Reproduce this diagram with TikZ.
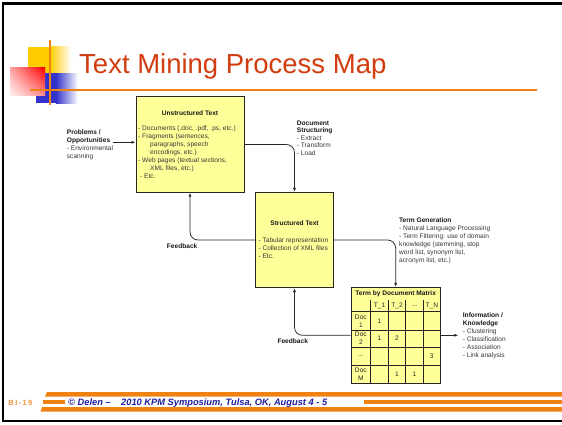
\documentclass[tikz,border=0pt]{standalone}
\usepackage{fontspec}
\setmainfont{Liberation Sans}
\newfontfamily\spacedfont[LetterSpace=18]{Liberation Sans}
\usetikzlibrary{arrows.meta,shadings}
\definecolor{titlered}{RGB}{210,60,15}
\definecolor{slideorange}{RGB}{240,130,20}
\definecolor{boxyellow}{RGB}{255,255,153}
\definecolor{footblue}{RGB}{30,30,160}
\definecolor{bilabel}{RGB}{240,150,60}
\definecolor{sqyellow}{RGB}{255,204,0}
\definecolor{sqblue}{RGB}{51,51,204}
\definecolor{txtgray}{RGB}{55,55,55}
\begin{document}
\begin{tikzpicture}[x=1pt,y=-1pt,
  procbox/.style={draw=black!85, fill=boxyellow, line width=0.75pt, inner sep=0pt},
  lbl/.style={font=\fontsize{6.6}{8}\selectfont, text=txtgray, inner sep=0pt, align=left, anchor=north west},
  head/.style={font=\fontsize{6.6}{8}\selectfont\bfseries, text=black!90, inner sep=0pt},
  cell/.style={font=\fontsize{6.6}{8}\selectfont, text=black!85, inner sep=0pt, align=center},
  conn/.style={draw=black!85, line width=0.75pt, -{Latex[length=4pt,width=3pt]}, rounded corners=8pt},
  orangebar/.style={fill=slideorange}]
\useasboundingbox (0,0) rectangle (562,424);
\fill[white] (0,0) rectangle (562,424);
% slide frame
\draw[line width=2.5pt] (562,3.5) -- (3,3.5) -- (3,421) -- (562,421);
% decorative squares
\fill[sqyellow] (28,46.7) rectangle (50,73);
\shade[left color=sqyellow, right color=white] (49.9,46.7) rectangle (71,73);
\fill[sqblue] (36,73) rectangle (56,103);
\shade[left color=sqblue, right color=white] (55.9,73) rectangle (78,103);
\shade[upper left=red!35!white, upper right=red, lower left=red!5!white, lower right=red!45!white] (10,67.7) rectangle (45,95);
\draw[slideorange, line width=2pt] (30,90) -- (537,90);
\draw[slideorange, line width=2pt] (50,40) -- (50,105);
% title
\node[anchor=base west, inner sep=0pt, font=\fontsize{27.5}{30}\selectfont, text=titlered] (title) at (79,73) {Text Mining Process Map};
% boxes
\node[procbox, minimum width=108pt, minimum height=95.6pt] (unstr) at (190,144.5) {};
\node[procbox, minimum width=77.6pt, minimum height=95.4pt] (str) at (294.5,240) {};
\node[head] (unstrT) at (190,112.7) {Unstructured Text};
\node[lbl] (unstrL) at (138,125.3) {- Documents (.doc, .pdf, .ps, etc.)\\
- Fragments (sentences,\\
\hspace*{12pt}paragraphs, speech\\
\hspace*{12pt}encodings, etc.)\\
- Web pages (textual sections,\\
\hspace*{12pt}XML files, etc.)\\
\hspace*{2pt}- Etc.};
\node[head] (strT) at (294.5,223.3) {Structured Text};
\node[lbl] (strL) at (258.3,237.3) {- Tabular representation\\
- Collection of XML files\\
- Etc.};
% side labels
\node[lbl] (prob) at (66.7,130) {\textbf{\color{black!90}Problems /}\\
\textbf{\color{black!90}Opportunities}\\
- Environmental\\
scanning};
\coordinate (pin) at (112.7,142.3);
\node[lbl, font=\fontsize{6.6}{7.5}\selectfont] (docs) at (296.7,120.6) {\textbf{\color{black!90}Document}\\
\textbf{\color{black!90}Structuring}\\
- Extract\\
- Transform\\
- Load};
\node[lbl] (termg) at (399,217.3) {\textbf{\color{black!90}Term Generation}\\
- Natural Language Processing\\
- Term Filtering: use of domain\\
knowledge (stemming, stop\\
word list, synonym list,\\
acronym list, etc.)};
\node[lbl] (info) at (462.7,313) {\textbf{\color{black!90}Information /}\\
\textbf{\color{black!90}Knowledge}\\
- Clustering\\
- Classification\\
- Association\\
- Link analysis};
\node[head, anchor=west] (fb1) at (166.7,245.7) {Feedback};
\node[head, anchor=west] (fb2) at (277.3,340.7) {Feedback};
% matrix
\node[procbox, minimum width=89.3pt, minimum height=96pt] (mat) at (395.65,335.3) {};
\foreach \yy in {311.7,330,347.3,365} \draw[black!85, line width=0.75pt] (351,\yy) -- (440.3,\yy);
\foreach \xx in {370.7,388.3,405.7,423.3} \draw[black!85, line width=0.75pt] (\xx,300) -- (\xx,383.3);
\node[head] (matT) at (395.65,293.7) {Term by Document Matrix};
\node[cell] (h1) at (379.5,305.85) {T\_1};
\node[cell] (h2) at (397,305.85) {T\_2};
\node[cell] (h3) at (414.5,305.85) {...};
\node[cell] (h4) at (431.8,305.85) {T\_N};
\node[cell] (r1) at (360.85,320.85) {Doc\\1};
\node[cell] (r2) at (360.85,338.65) {Doc\\2};
\node[cell] (r3) at (360.85,356.15) {...};
\node[cell] (r4) at (360.85,374.15) {Doc\\M};
\node[cell] (v11) at (379.5,320.85) {1};
\node[cell] (v21) at (379.5,338.65) {1};
\node[cell] (v22) at (397,338.65) {2};
\node[cell] (v34) at (431.8,356.15) {3};
\node[cell] (v42) at (397,374.15) {1};
\node[cell] (v43) at (414.5,374.15) {1};
% connectors
\draw[conn] (pin) -- (pin -| unstr.west);
\draw[conn] (unstr.east) -| (str.north);
\draw[conn] (str.west) -| (unstr.south);
\draw[conn] (str.east) -| (mat.north);
\draw[conn] (mat.west) -| (str.south);
\coordinate (outp) at (458.3,335.3);
\draw[conn] (mat.east) -- (outp);
% footer
\fill[orangebar] (47,392) -- (562,392) -- (562,396.5) -- (45,396.5) -- cycle;
\fill[orangebar] (42,407.2) -- (562,407.2) -- (562,411.7) -- (40.5,411.7) -- cycle;
\fill[orangebar] (43,400.2) rectangle (65,404);
\fill[orangebar] (364,400.4) rectangle (562,404);
\node[anchor=base west, inner sep=0pt, font=\spacedfont\fontsize{7.5}{9}\selectfont\bfseries, text=bilabel] (bi) at (8.3,405.3) {BI-19};
\node[anchor=base west, inner sep=0pt, font=\fontsize{9.3}{11}\selectfont\bfseries\itshape, text=footblue] (foot1) at (68,405.3) {© Delen –};
\node[anchor=base west, inner sep=0pt, font=\fontsize{9.3}{11}\selectfont\bfseries\itshape, text=footblue] (foot2) at (121,405.3) {2010 KPM Symposium, Tulsa, OK, August 4 - 5};
\end{tikzpicture}
\end{document}
